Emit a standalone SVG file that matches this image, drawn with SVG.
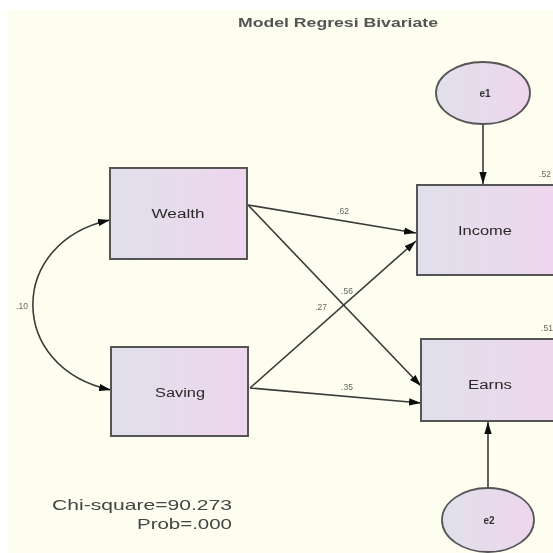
<svg xmlns="http://www.w3.org/2000/svg" width="553" height="553" viewBox="0 0 553 553">
  <defs>
    <linearGradient id="fillBox" x1="0" y1="0" x2="1" y2="0">
      <stop offset="0" stop-color="#e0e0ea"/>
      <stop offset="1" stop-color="#eed6ee"/>
    </linearGradient>
    <marker id="arrow" viewBox="0 0 12 8" refX="12" refY="4" markerWidth="12" markerHeight="8" markerUnits="userSpaceOnUse" orient="auto-start-reverse">
      <path d="M0,0.3 L12,4 L0,7.7 z" fill="#111"/>
    </marker>
    <filter id="soft" x="-5%" y="-5%" width="110%" height="110%">
      <feGaussianBlur stdDeviation="0.5"/>
    </filter>
  </defs>
  <style>
    .box { fill: url(#fillBox); stroke: #555; stroke-width: 2; }
    .err { fill: url(#fillBox); stroke: #555; stroke-width: 1.8; }
    .lbl { font-family: "Liberation Sans", Arial, sans-serif; font-size: 12px; fill: #2a2a2a; text-anchor: middle; }
    .elbl { font-family: "Liberation Sans", Arial, sans-serif; font-size: 10px; fill: #333; text-anchor: middle; font-weight: bold; }
    .num { font-family: "Liberation Sans", Arial, sans-serif; font-size: 8.5px; fill: #666; text-anchor: middle; }
    .link { fill: none; stroke: #3a3a3a; stroke-width: 1.6; marker-end: url(#arrow); }
    .note { font-family: "Liberation Sans", Arial, sans-serif; font-size: 15px; fill: #444; text-anchor: end; }
    .title { font-family: "Liberation Sans", Arial, sans-serif; font-size: 12.5px; fill: #555; font-weight: bold; }
  </style>

  <rect x="0" y="0" width="553" height="553" fill="#ffffff"/>
  <rect x="8" y="10" width="545" height="543" fill="#fefef0"/>

  <g filter="url(#soft)">
    <text class="title" x="238" y="27" textLength="200" lengthAdjust="spacingAndGlyphs">Model Regresi Bivariate</text>

    <!-- paths and covariance -->
    <g id="connectors">
      <path class="link" d="M110,220 C7,242 7,368 111,390" marker-start="url(#arrow)"/>
      <line class="link" x1="248" y1="205" x2="416" y2="233"/>
      <line class="link" x1="248" y1="205" x2="421" y2="386"/>
      <line class="link" x1="250" y1="388" x2="416" y2="241"/>
      <line class="link" x1="250" y1="388" x2="421" y2="403"/>
      <line class="link" x1="483" y1="124" x2="483" y2="184"/>
      <line class="link" x1="488" y1="487" x2="488" y2="422"/>
    </g>

    <!-- estimates -->
    <text class="num" x="22" y="309">.10</text>
    <text class="num" x="343" y="214">.62</text>
    <text class="num" x="347" y="294">.56</text>
    <text class="num" x="321" y="310">.27</text>
    <text class="num" x="347" y="390">.35</text>
    <text class="num" x="545" y="177">.52</text>
    <text class="num" x="547" y="331">.51</text>

    <g id="wealth">
      <rect class="box" x="110" y="168" width="137" height="91"/>
      <text class="lbl" x="178" y="218" textLength="53" lengthAdjust="spacingAndGlyphs">Wealth</text>
    </g>
    <g id="saving">
      <rect class="box" x="111" y="347" width="137" height="89"/>
      <text class="lbl" x="180" y="397" textLength="50" lengthAdjust="spacingAndGlyphs">Saving</text>
    </g>
    <g id="income">
      <rect class="box" x="417" y="185" width="140" height="90"/>
      <text class="lbl" x="485" y="235" textLength="54" lengthAdjust="spacingAndGlyphs">Income</text>
    </g>
    <g id="earns">
      <rect class="box" x="421" y="339" width="140" height="82"/>
      <text class="lbl" x="490" y="389" textLength="44" lengthAdjust="spacingAndGlyphs">Earns</text>
    </g>
    <g id="e1">
      <ellipse class="err" cx="483" cy="93" rx="47" ry="31"/>
      <text class="elbl" x="485" y="97">e1</text>
    </g>
    <g id="e2">
      <ellipse class="err" cx="488" cy="520" rx="46" ry="32"/>
      <text class="elbl" x="489" y="524">e2</text>
    </g>

    <text class="note" x="232" y="510" textLength="180" lengthAdjust="spacingAndGlyphs">Chi-square=90.273</text>
    <text class="note" x="232" y="529" textLength="95" lengthAdjust="spacingAndGlyphs">Prob=.000</text>
  </g>
</svg>
